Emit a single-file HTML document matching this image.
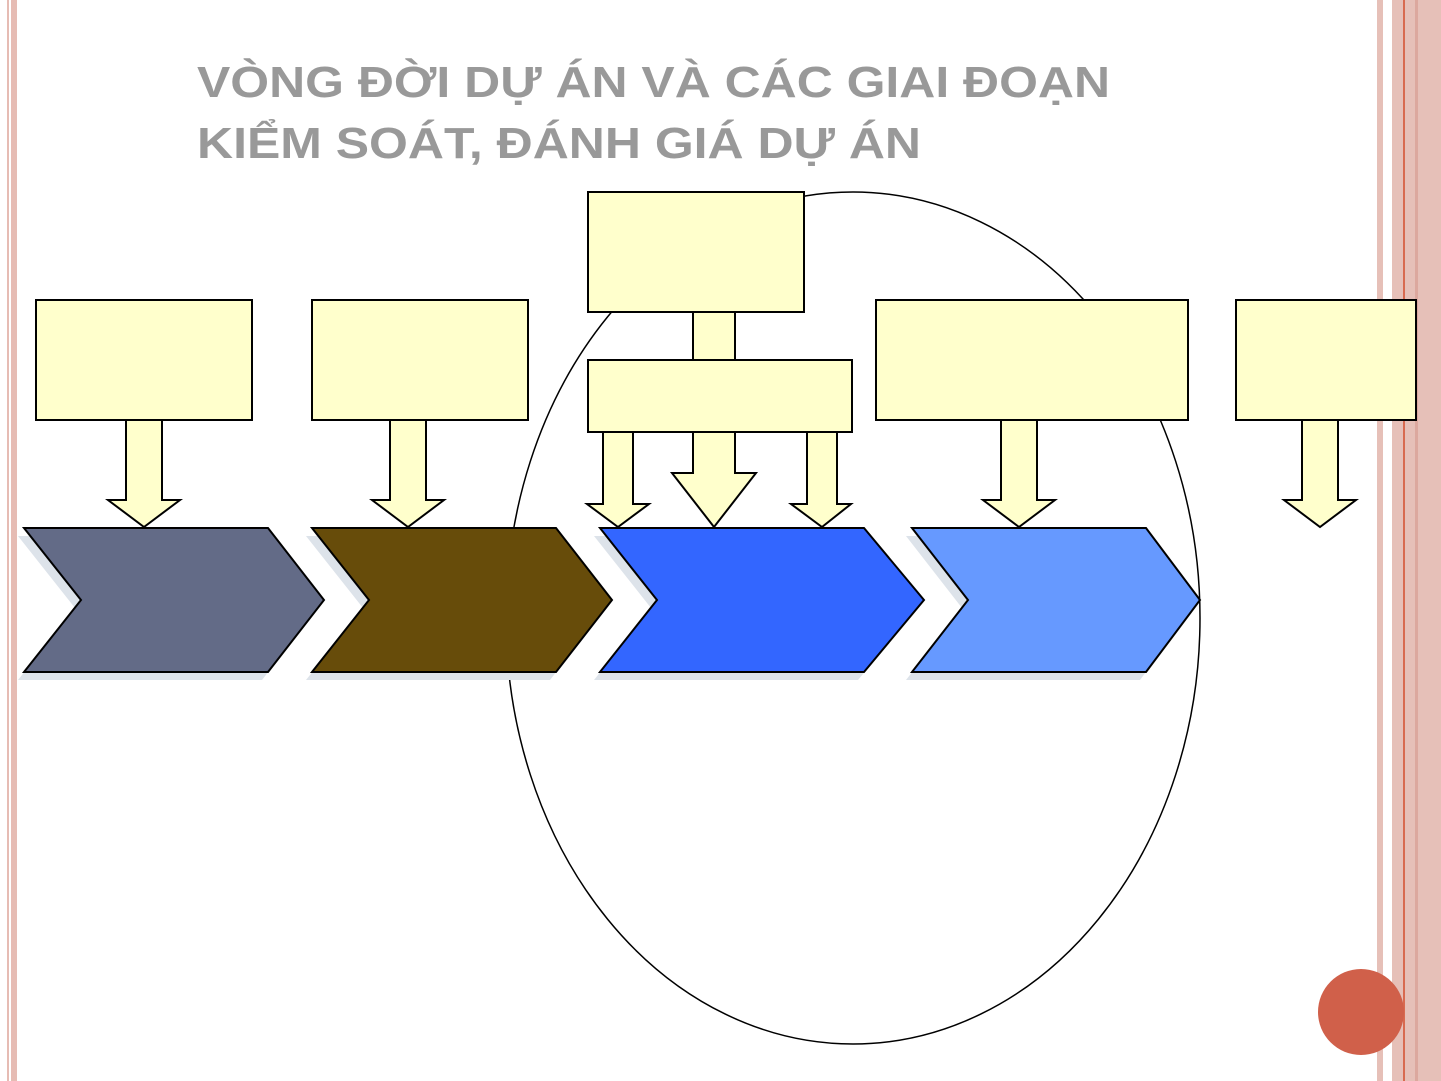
<!DOCTYPE html>
<html><head><meta charset="utf-8"><style>
html,body{margin:0;padding:0;background:#fff;}
svg{display:block;}
</style></head><body>
<svg width="1441" height="1081" viewBox="0 0 1441 1081" xmlns="http://www.w3.org/2000/svg">
<rect width="1441" height="1081" fill="#fff"/>
<rect x="7" y="0" width="2" height="1081" fill="#e6bcb4"/>
<rect x="11" y="0" width="6" height="1081" fill="#e6bcb4"/>
<rect x="1377" y="0" width="6" height="1081" fill="#e6c0b8"/>
<rect x="1392" y="0" width="49" height="1081" fill="#e6c0b8"/>
<rect x="1403" y="0" width="2" height="1081" fill="#d86a50"/>
<rect x="1415" y="0" width="3" height="1081" fill="#dca89e"/>
<g font-family="Liberation Sans, sans-serif" font-weight="bold" font-size="44" fill="#999">
<text x="197" y="97" textLength="913" lengthAdjust="spacingAndGlyphs">VÒNG ĐỜI DỰ ÁN VÀ CÁC GIAI ĐOẠN</text>
<text x="197" y="158" textLength="724" lengthAdjust="spacingAndGlyphs">KIỂM SOÁT, ĐÁNH GIÁ DỰ ÁN</text>
</g>
<ellipse cx="853" cy="618" rx="347" ry="426" fill="none" stroke="#000" stroke-width="1.5"/>
<g fill="#dde3ea">
<polygon points="18,536 262,536 318,608 262,680 18,680 75,608"/>
<polygon points="306,536 550,536 606,608 550,680 306,680 363,608"/>
<polygon points="594,536 858,536 918,608 858,680 594,680 651,608"/>
<polygon points="906,536 1140,536 1194,608 1140,680 906,680 962,608"/>
</g>
<g stroke="#000" stroke-width="2">
<polygon points="24,528 268,528 324,600 268,672 24,672 81,600" fill="#636b87"/>
<polygon points="312,528 556,528 612,600 556,672 312,672 369,600" fill="#674c0a"/>
<polygon points="600,528 864,528 924,600 864,672 600,672 657,600" fill="#3366ff"/>
<polygon points="912,528 1146,528 1200,600 1146,672 912,672 968,600" fill="#6699ff"/>
</g>
<g stroke="#000" stroke-width="2" fill="#ffffcc">
<rect x="693" y="311" width="42" height="50"/>
<rect x="36" y="300" width="216" height="120"/>
<rect x="312" y="300" width="216" height="120"/>
<rect x="588" y="192" width="216" height="120"/>
<rect x="876" y="300" width="312" height="120"/>
<rect x="1236" y="300" width="180" height="120"/>
<polygon points="126,420 162,420 162,500 180,500 144,527 108,500 126,500"/>
<polygon points="390,420 426,420 426,500 444,500 408,527 372,500 390,500"/>
<polygon points="603,432 633,432 633,504 649,504 618,527 587,504 603,504"/>
<polygon points="693,432 735,432 735,473 756,473 714,527 672,473 693,473"/>
<polygon points="807,432 837,432 837,504 851,504 822,527 791,504 807,504"/>
<polygon points="1001,420 1037,420 1037,500 1055,500 1019,527 983,500 1001,500"/>
<polygon points="1302,420 1338,420 1338,500 1356,500 1320,527 1284,500 1302,500"/>
<rect x="588" y="360" width="264" height="72"/>
</g>
<circle cx="1361" cy="1012" r="43" fill="#d0604a"/>
</svg>
</body></html>
